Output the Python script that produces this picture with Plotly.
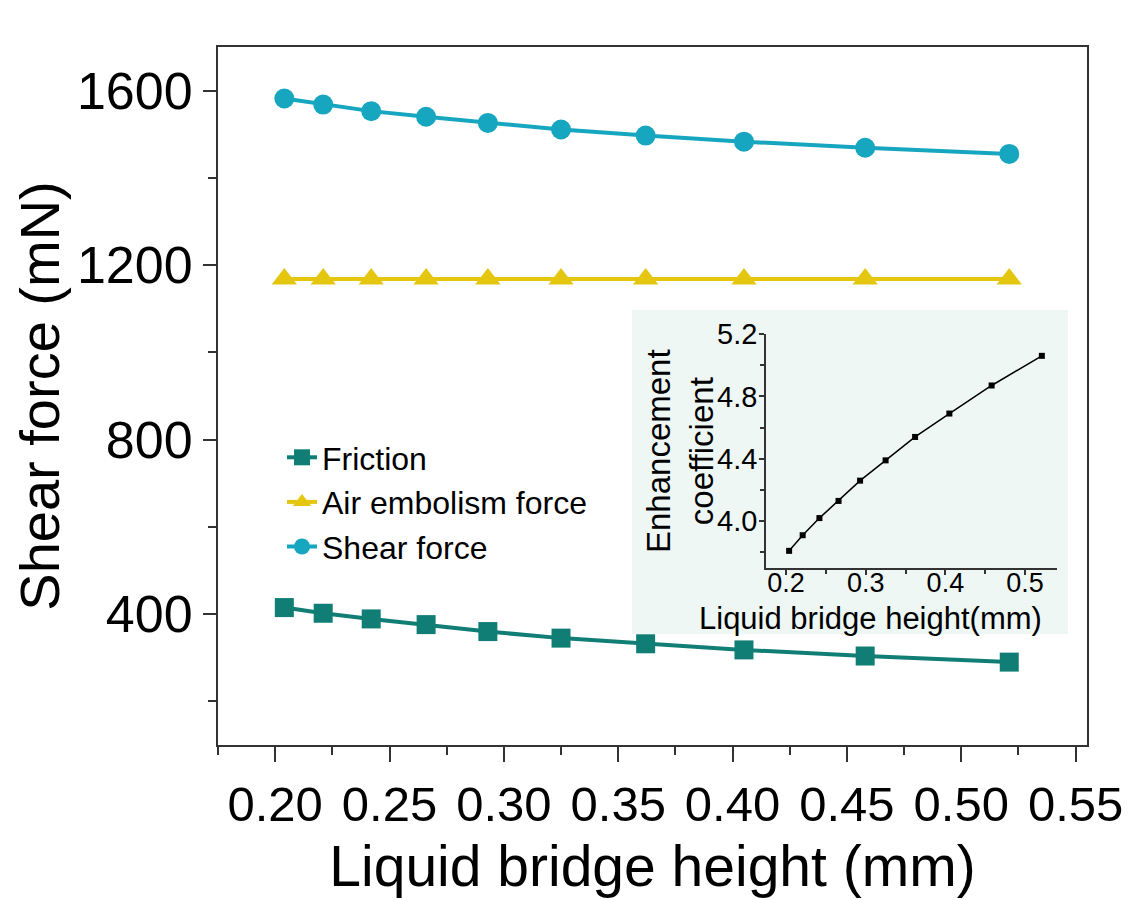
import plotly.graph_objects as go

# liquid bridge height (mm)
heights = [0.204, 0.221, 0.242, 0.266, 0.293, 0.325, 0.362, 0.405, 0.458, 0.521]
friction = [415, 402, 389, 376, 360, 345, 332, 318, 304, 290]
air_embolism = [1168, 1168, 1168, 1168, 1168, 1168, 1168, 1168, 1168, 1168]
shear = [1582, 1568, 1553, 1540, 1526, 1511, 1497, 1483, 1469, 1455]
# inset: enhancement coefficient
coefficient = [3.81, 3.91, 4.02, 4.13, 4.26, 4.39, 4.54, 4.69, 4.87, 5.06]

FONT = "Liberation Sans, Arial, sans-serif"
W, H = 1135, 900
OFF = 8  # page body margin
L, R, T, B = 210, 56, 39, 163
PW, PH = W - L - R, H - T - B


# screen pixel -> paper fraction
def px(sx):
    return (sx - OFF - L) / PW


def py(sy):
    return (H - B - (sy - OFF)) / PH


AX = '#333'

fig = go.Figure()
fig.add_trace(go.Scatter(x=heights, y=friction, name='Friction', mode='lines+markers',
                         line=dict(color='#117e76', width=4),
                         marker=dict(symbol='square', size=19, color='#117e76')))
fig.add_trace(go.Scatter(x=heights, y=air_embolism, name='Air embolism force', mode='lines+markers',
                         line=dict(color='#e5c60f', width=4),
                         marker=dict(symbol='triangle-up', size=22, color='#e5c60f')))
fig.add_trace(go.Scatter(x=heights, y=shear, name='Shear force', mode='lines+markers',
                         line=dict(color='#16a6bf', width=4),
                         marker=dict(symbol='circle', size=20, color='#16a6bf')))
fig.add_trace(go.Scatter(x=heights, y=coefficient, xaxis='x2', yaxis='y2', mode='lines+markers',
                         showlegend=False, line=dict(color='black', width=1.5),
                         marker=dict(symbol='square', size=6, color='black')))

fig.update_layout(
    width=W, height=H,
    margin=dict(l=L, r=R, t=T, b=B),
    paper_bgcolor='white', plot_bgcolor='rgba(0,0,0,0)',
    font=dict(family=FONT, color='black'),
    showlegend=True,
    legend=dict(x=px(282), y=py(430), xanchor='left', yanchor='top', bgcolor='rgba(0,0,0,0)',
                font=dict(size=32, family=FONT), tracegroupgap=0),
    xaxis=dict(range=[0.175, 0.555], dtick=0.05, tick0=0, tickformat='.2f', automargin=False,
               showline=True, mirror=True, linecolor=AX, linewidth=2,
               ticks='outside', ticklen=15, tickwidth=2, tickcolor=AX,
               minor=dict(dtick=0.025, tick0=0, ticks='outside', ticklen=8, tickwidth=2, tickcolor=AX),
               showgrid=False, zeroline=False, tickfont=dict(size=49),
               title=dict(text='Liquid bridge height (mm)', font=dict(size=57), standoff=16)),
    yaxis=dict(range=[100, 1700], dtick=400, tick0=0, automargin=False,
               showline=True, mirror=True, linecolor=AX, linewidth=2,
               ticks='outside', ticklen=13, tickwidth=2, tickcolor=AX,
               minor=dict(dtick=200, tick0=0, ticks='outside', ticklen=8, tickwidth=2, tickcolor=AX),
               showgrid=False, zeroline=False, tickfont=dict(size=52),
               title=dict(text='Shear force (mN)', font=dict(size=56), standoff=24)),
    xaxis2=dict(domain=[px(766), px(1057)], anchor='y2', range=[0.175, 0.54],
                dtick=0.1, tick0=0, tickformat='.1f', ticklabelstandoff=-15,
                showline=True, linecolor=AX, linewidth=1.5,
                ticks='outside', ticklen=5, tickwidth=1.5, tickcolor=AX,
                minor=dict(dtick=0.05, tick0=0, ticks='outside', ticklen=4, tickwidth=1.5, tickcolor=AX),
                showgrid=False, zeroline=False, tickfont=dict(size=27)),
    yaxis2=dict(domain=[py(568), py(334)], anchor='x2', range=[3.7, 5.2],
                dtick=0.4, tick0=0, tickformat='.1f', ticklabelstandoff=-4,
                showline=True, linecolor=AX, linewidth=1.5,
                ticks='outside', ticklen=5, tickwidth=1.5, tickcolor=AX,
                minor=dict(dtick=0.2, tick0=0, ticks='outside', ticklen=4, tickwidth=1.5, tickcolor=AX),
                showgrid=False, zeroline=False, tickfont=dict(size=29)),
    shapes=[
        # inset panel background
        dict(type='rect', xref='paper', yref='paper', layer='below',
             x0=px(632), x1=px(1068), y0=py(634), y1=py(310),
             fillcolor='#eef7f4', line=dict(width=0)),
        # thin frame edge on the left of the picture
        dict(type='line', xref='paper', yref='paper', x0=px(2), x1=px(2), y0=py(908), y1=py(0),
             line=dict(color='#d9d9d9', width=2)),
    ],
    annotations=[
        dict(text='Liquid bridge height(mm)', xref='paper', yref='paper', x=px(870), y=py(599),
             xanchor='center', yanchor='top', showarrow=False, font=dict(size=31, family=FONT)),
        dict(text='Enhancement<br>coefficient', xref='paper', yref='paper', x=px(680), y=py(451),
             xanchor='center', yanchor='middle', textangle=-90, showarrow=False,
             font=dict(size=33, family=FONT)),
    ],
)

fig.write_html("out.html")
